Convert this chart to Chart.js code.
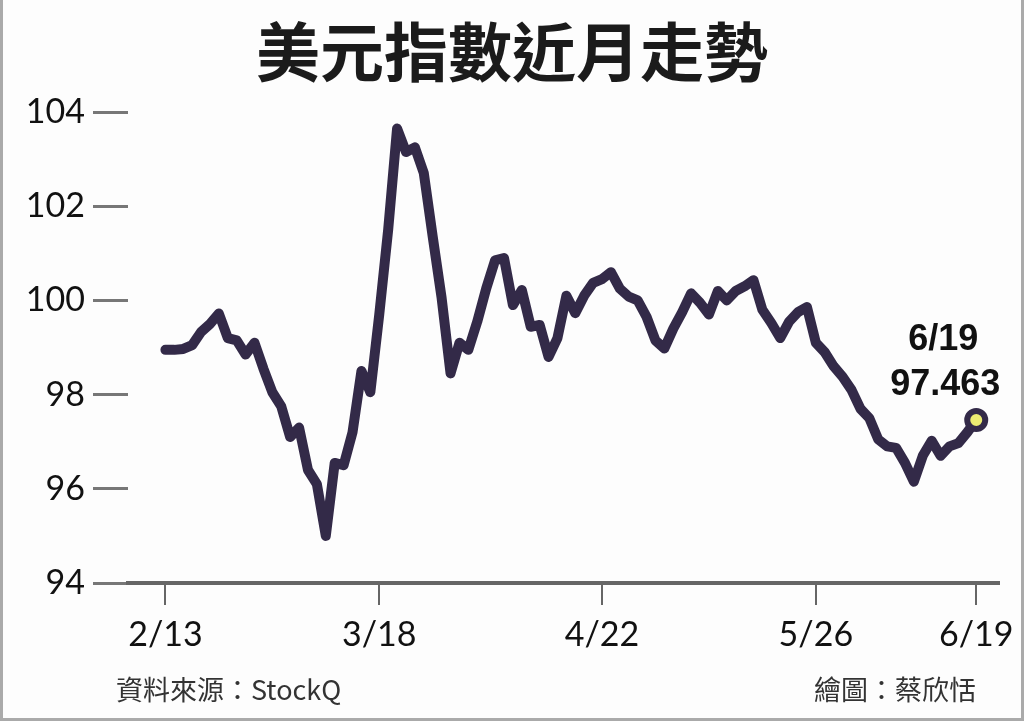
<!DOCTYPE html>
<html>
<head>
<meta charset="utf-8">
<script src="https://cdn.jsdelivr.net/npm/chart.js@4"></script>
<style>
  html, body { margin: 0; padding: 0; background: #fff; }
  #wrap { position: relative; width: 1024px; height: 721px; box-sizing: border-box;
          border-left: 3px solid #aaa; border-right: 3px solid #aaa; border-bottom: 3px solid #aaa; background: #fdfdfd; }
  #chart { position: absolute; left: -3px; top: 0; }
  .title { position: absolute; left: 0; width: 1018px; top: 8px; text-align: center;
           font-family: "Noto Sans CJK TC", sans-serif; font-weight: 700; font-size: 64px; line-height: 80px; color: #1b1b1b; }
  .foot { position: absolute; top: 671px; font-family: "Noto Sans CJK TC", sans-serif; font-size: 27px; line-height: 36px; color: #333; }
</style>
</head>
<body>
<div id="wrap">
  <canvas id="chart" width="1024" height="721"></canvas>
  <div class="title">美元指數近月走勢</div>
  <div class="foot" style="left:113px">資料來源：StockQ</div>
  <div class="foot" style="right:45px">繪圖：蔡欣恬</div>
</div>
<script>
// trading days 2/13 - 6/19
const dateLabels = [
  '2/13','2/14','2/17','2/18','2/19','2/20','2/21','2/24','2/25','2/26','2/27','2/28',
  '3/2','3/3','3/4','3/5','3/6','3/9','3/10','3/11','3/12','3/13','3/16','3/17','3/18',
  '3/19','3/20','3/23','3/24','3/25','3/26','3/27','3/30','3/31',
  '4/1','4/2','4/3','4/6','4/7','4/8','4/9','4/10','4/13','4/14','4/15','4/16','4/17','4/20','4/21','4/22',
  '4/23','4/24','4/27','4/28','4/29','4/30',
  '5/1','5/4','5/5','5/6','5/7','5/8','5/11','5/12','5/13','5/14','5/15','5/18','5/19','5/20','5/21','5/22','5/25','5/26',
  '5/27','5/28','5/29',
  '6/1','6/2','6/3','6/4','6/5','6/8','6/9','6/10','6/11','6/12','6/15','6/16','6/17','6/18','6/19'
];
const dxyValues = [
  98.95, 98.95, 98.97, 99.05, 99.33, 99.5, 99.72, 99.2, 99.15, 98.85, 99.1, 98.55,
  98.05, 97.75, 97.1, 97.3, 96.4, 96.1, 95.0, 96.55, 96.5, 97.2, 98.5, 98.05, 99.7,
  101.5, 103.65, 103.15, 103.25, 102.7, 101.35, 100.05, 98.45, 99.1,
  98.95, 99.55, 100.25, 100.85, 100.9, 99.9, 100.22, 99.44, 99.48, 98.8, 99.2, 100.1, 99.73, 100.1, 100.37, 100.45,
  100.6, 100.25, 100.08, 100.0, 99.65, 99.15,
  98.98, 99.4, 99.75, 100.15, 99.95, 99.7, 100.2, 100.0, 100.2, 100.3, 100.43, 99.8, 99.52, 99.2, 99.55, 99.75, 99.86, 99.1,
  98.9, 98.6, 98.38,
  98.1, 97.7, 97.5, 97.05, 96.9, 96.87, 96.55, 96.15, 96.7, 97.02, 96.7, 96.9, 96.97, 97.2, 97.46
];
const shownDates = ['2/13', '3/18', '4/22', '5/26', '6/19'];
const yMin = 94, yMax = 104, yStep = 2;
const lastDate = '6/19';
const lastValue = '97.463';

const lineColor = '#332a48';
const last = dxyValues.length - 1;

const endLabel = {
  id: 'endLabel',
  afterDatasetsDraw(chart) {
    const pt = chart.getDatasetMeta(0).data[last];
    const c = chart.ctx;
    c.save();
    c.fillStyle = '#111';
    c.font = 'bold 36px "Liberation Sans", Arial, sans-serif';
    c.textAlign = 'center';
    c.textBaseline = 'middle';
    c.fillText(lastDate, pt.x - 33, pt.y - 80);
    c.fillText(lastValue, pt.x - 31, pt.y - 35);
    c.restore();
  }
};

new Chart(document.getElementById('chart'), {
  type: 'line',
  data: {
    datasets: [{
      data: dxyValues.map((v, i) => ({ x: i, y: v })),
      borderColor: lineColor,
      borderWidth: 10,
      borderJoinStyle: 'round',
      borderCapStyle: 'round',
      tension: 0,
      fill: false,
      pointRadius: ctx => ctx.dataIndex === last ? 9 : 0,
      pointBorderWidth: 6,
      pointBackgroundColor: '#ecec72',
      pointBorderColor: lineColor,
      clip: false
    }]
  },
  options: {
    responsive: false,
    animation: false,
    layout: { padding: { left: 0, top: 112, right: 19, bottom: 0 } },
    plugins: { legend: { display: false }, title: { display: false }, tooltip: { enabled: false } },
    scales: {
      x: {
        type: 'linear',
        min: -4.2,
        max: 93.6,
        afterBuildTicks: s => { s.ticks = shownDates.map(d => ({ value: dateLabels.indexOf(d) })); },
        afterFit: s => { s.height = 138; },
        ticks: {
          callback: v => dateLabels[v],
          font: { family: 'Lato', size: 34 },
          color: '#111',
          padding: 10,
          maxRotation: 0
        },
        grid: { drawOnChartArea: false, tickLength: 22, color: '#666', lineWidth: 2 },
        border: { display: true, color: '#666', width: 4 }
      },
      y: {
        min: yMin,
        max: yMax,
        afterFit: s => { s.width = 128; },
        ticks: {
          stepSize: yStep,
          font: { family: 'Lato', size: 34 },
          color: '#111',
          padding: 8
        },
        grid: { drawOnChartArea: false, tickLength: 35, color: '#777', lineWidth: 3 },
        border: { display: false }
      }
    }
  },
  plugins: [endLabel]
});
</script>
</body>
</html>
